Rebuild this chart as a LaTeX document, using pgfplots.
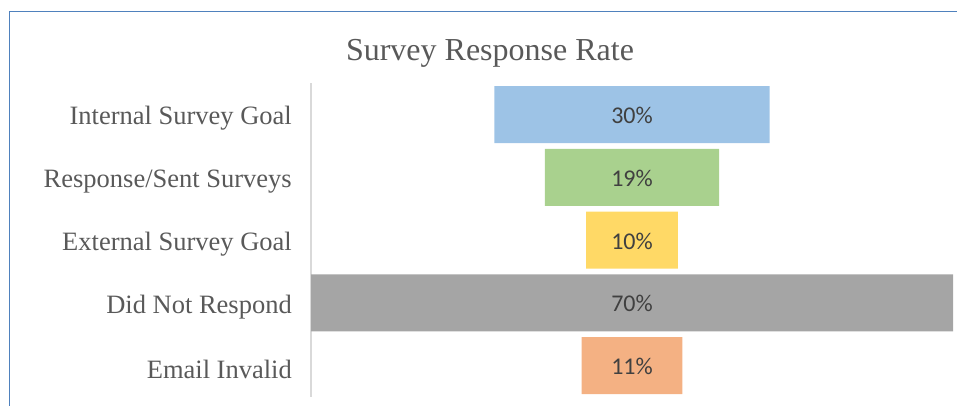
\documentclass[border=0pt]{standalone}
\usepackage{pgfplots}
\pgfplotsset{compat=1.18}
\usepackage{fontspec}
\setmainfont{Liberation Serif}
\newfontfamily\labelfont{Carlito}
\definecolor{cBlue}{HTML}{9DC3E6}
\definecolor{cGreen}{HTML}{A9D18E}
\definecolor{cYellow}{HTML}{FFD966}
\definecolor{cGray}{HTML}{A5A5A5}
\definecolor{cOrange}{HTML}{F4B183}
\definecolor{txt}{HTML}{595959}
\definecolor{lbl}{HTML}{404040}
\definecolor{frame}{HTML}{4F81BD}
\begin{document}
\begin{tikzpicture}
\useasboundingbox (0,0) rectangle (957pt,406pt);
\draw[frame, line width=1.5pt] (9.5pt,0pt) -- (9.5pt,394.5pt) -- (957pt,394.5pt);
\node[anchor=base, font=\fontsize{32}{34}\selectfont, text=txt] at (490pt,345pt) {Survey Response Rate};
\begin{axis}[
  at={(311pt,9.1pt)}, anchor=south west,
  scale only axis, width=642pt, height=313.75pt,
  xmin=-35, xmax=35, ymin=0.5, ymax=5.5,
  y dir=reverse,
  axis x line=none,
  axis y line*=left,
  y axis line style={draw=black!15, line width=1.2pt, -},
  major tick length=0pt,
  ytick={1,2,3,4,5},
  yticklabels={Internal Survey Goal, Response/Sent Surveys, External Survey Goal, Did Not Respond, Email Invalid},
  yticklabel style={anchor=east, inner sep=0pt, xshift=-19pt, yshift=-4pt, text=txt, font=\fontsize{26.5}{28}\selectfont},
  clip=false,
]
\addplot[xbar, bar width=57pt, bar shift=0pt, fill=cBlue, draw=none] coordinates {(15,1) (-15,1)};
\addplot[xbar, bar width=57pt, bar shift=0pt, fill=cGreen, draw=none] coordinates {(9.5,2) (-9.5,2)};
\addplot[xbar, bar width=57pt, bar shift=0pt, fill=cYellow, draw=none] coordinates {(5,3) (-5,3)};
\addplot[xbar, bar width=57pt, bar shift=0pt, fill=cGray, draw=none] coordinates {(35,4) (-35,4)};
\addplot[xbar, bar width=57pt, bar shift=0pt, fill=cOrange, draw=none] coordinates {(5.5,5) (-5.5,5)};
\addplot[draw=none, mark=none, nodes near coords, point meta=explicit symbolic,
  nodes near coords style={anchor=center, yshift=-1pt, text=lbl, font=\labelfont\fontsize{24}{26}\selectfont}]
  coordinates {(0,1) [30\%] (0,2) [19\%] (0,3) [10\%] (0,4) [70\%] (0,5) [11\%]};
\end{axis}
\end{tikzpicture}
\end{document}
